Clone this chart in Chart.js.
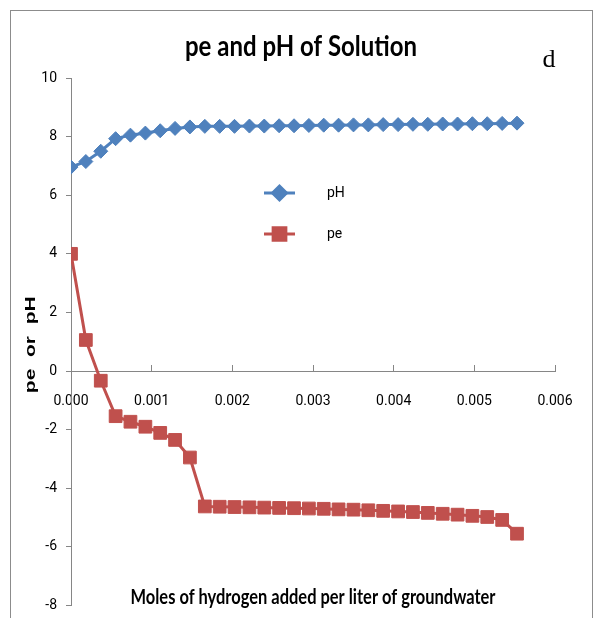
<!DOCTYPE html>
<html>
<head>
<meta charset="utf-8">
<script src="https://cdn.jsdelivr.net/npm/chart.js@4.4.0/dist/chart.umd.min.js"></script>
<style>
  html, body { margin: 0; padding: 0; background: #fff; }
  #wrap { width: 594px; height: 618px; }
</style>
</head>
<body>
<div id="wrap"><canvas id="phChart" width="594" height="618"></canvas></div>
<script>
// moles of H2 added per liter (x)
const molesH = [
  0, 0.000184, 0.000369, 0.000553, 0.000737, 0.000922, 0.001106, 0.001290,
  0.001474, 0.001659, 0.001843, 0.002027, 0.002212, 0.002396, 0.002580, 0.002765,
  0.002949, 0.003133, 0.003317, 0.003502, 0.003686, 0.003870, 0.004055, 0.004239,
  0.004423, 0.004608, 0.004792, 0.004976, 0.005160, 0.005345, 0.005529
];
const phValues = [
  6.96, 7.15, 7.50, 7.93, 8.05, 8.12, 8.20, 8.28, 8.33, 8.35, 8.35, 8.35, 8.36, 8.36, 8.37, 8.37,
  8.38, 8.39, 8.39, 8.40, 8.40, 8.41, 8.41, 8.42, 8.42, 8.43, 8.43, 8.44, 8.44, 8.45, 8.46
];
const peValues = [
  4.00, 1.06, -0.33, -1.54, -1.73, -1.90, -2.11, -2.35, -2.95, -4.62, -4.63, -4.64, -4.65, -4.66, -4.67, -4.68,
  -4.69, -4.70, -4.72, -4.73, -4.75, -4.77, -4.79, -4.81, -4.84, -4.87, -4.90, -4.94, -4.98, -5.08, -5.55
];
const seriesNames = ["pH", "pe"];
const xTickStep = 0.001;
const yTickStep = 2;

const tickFont = "Roboto, 'Liberation Sans', sans-serif";
const boldFont = "Lato, 'Liberation Sans', sans-serif";
const axisGray = "#868686";

// squeeze a centred string to a given width (original uses a narrow font)
function fitText(ctx, text, x, y, width) {
    const w = ctx.measureText(text).width;
    ctx.save();
    ctx.translate(x, y);
    ctx.scale(Math.min(1, width / w), 1);
    ctx.fillText(text, 0, 0);
    ctx.restore();
}

// frame, titles, corner letter and legend
const decorPlugin = {
    id: "decor",
    beforeDraw(chart) {
        const ctx = chart.ctx;
        ctx.save();
        ctx.fillStyle = "#fff";
        ctx.fillRect(0, 0, chart.width, chart.height);
        ctx.strokeStyle = "#8c8c8c";
        ctx.lineWidth = 1;
        ctx.strokeRect(10.5, 10.5, 582, 640);
        ctx.restore();
    },
    afterDraw(chart) {
        const ctx = chart.ctx;
        const area = chart.chartArea;
        ctx.save();
        ctx.fillStyle = "#000";
        ctx.textAlign = "center";
        ctx.textBaseline = "alphabetic";

        // main title
        ctx.font = "bold 28px " + boldFont;
        fitText(ctx, "pe and pH of Solution", 301, 56, 232);

        // y title, stretched like the original
        ctx.save();
        ctx.translate(35, (area.top + area.bottom) / 2 + 3);
        ctx.rotate(-Math.PI / 2);
        ctx.scale(1.5, 1);
        ctx.font = "bold 14px 'Liberation Sans', Arial, sans-serif";
        ctx.fillText("pe  or  pH", 0, 0);
        ctx.restore();

        // x title
        ctx.font = "bold 21px " + boldFont;
        fitText(ctx, "Moles of hydrogen added per liter of groundwater", (area.left + area.right) / 2, 604, 365);

        // panel letter
        ctx.font = "26px 'Liberation Serif', serif";
        ctx.fillText("d", 549, 67);

        // legend
        chart.data.datasets.forEach((ds, i) => {
            const y = 193 + i * 41;
            ctx.strokeStyle = ds.borderColor;
            ctx.lineWidth = 3;
            ctx.beginPath();
            ctx.moveTo(264, y);
            ctx.lineTo(295, y);
            ctx.stroke();
            Chart.helpers.drawPoint(ctx, {
                pointStyle: ds.pointStyle, radius: ds.pointRadius, rotation: 0, borderWidth: 1
            }, 279.5, y);
            ctx.fillStyle = ds.backgroundColor;
            ctx.fill();
            ctx.fillStyle = "#000";
            ctx.font = "14px " + tickFont;
            ctx.textAlign = "left";
            ctx.textBaseline = "middle";
            ctx.fillText(ds.label, 327, y);
        });
        ctx.restore();
    }
};

const ctx = document.getElementById("phChart").getContext("2d");

new Chart(ctx, {
    type: "line",
    data: {
        datasets: [
            {
                label: seriesNames[0],
                data: molesH.map((x, i) => ({ x: x, y: phValues[i] })),
                borderColor: "#4F81BD",
                backgroundColor: "#4F81BD",
                borderWidth: 3,
                pointStyle: "rectRot",
                pointRadius: 7,
                pointBorderWidth: 1,
                tension: 0
            },
            {
                label: seriesNames[1],
                data: molesH.map((x, i) => ({ x: x, y: peValues[i] })),
                borderColor: "#C0504D",
                backgroundColor: "#C0504D",
                borderWidth: 3,
                pointStyle: "rect",
                pointRadius: 9,
                pointBorderWidth: 1,
                tension: 0
            }
        ]
    },
    options: {
        responsive: false,
        animation: false,
        layout: { padding: { left: 0, right: 39, top: 78, bottom: 12.5 } },
        scales: {
            x: {
                type: "linear",
                position: { y: 0 },
                min: 0,
                max: 0.006,
                afterFit: (scale) => { scale.paddingLeft = 0; scale.paddingRight = 0; },
                ticks: {
                    stepSize: xTickStep,
                    padding: 29,
                    color: "#000",
                    font: { family: tickFont, size: 14 },
                    callback: (v) => v.toFixed(3)
                },
                grid: { drawOnChartArea: false, drawTicks: true, tickLength: -7, color: axisGray },
                border: { display: true, color: axisGray, width: 1 }
            },
            y: {
                min: -8,
                max: 10,
                afterFit: (scale) => { scale.width = 71; scale.paddingTop = 0; scale.paddingBottom = 0; },
                ticks: {
                    stepSize: yTickStep,
                    padding: 9,
                    color: "#000",
                    font: { family: tickFont, size: 14 }
                },
                grid: { drawOnChartArea: false, drawTicks: true, tickLength: 5, color: axisGray },
                border: { display: true, color: axisGray, width: 1 }
            }
        },
        plugins: {
            legend: { display: false },
            tooltip: { enabled: false },
            title: { display: false }
        }
    },
    plugins: [decorPlugin]
});
</script>
</body>
</html>
